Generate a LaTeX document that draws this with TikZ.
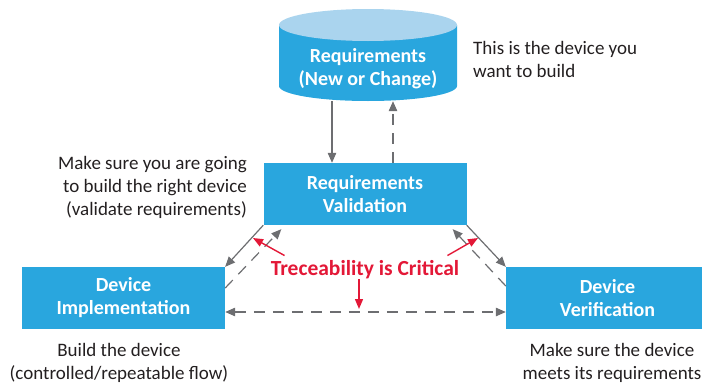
\documentclass[tikz,border=0pt]{standalone}
\usepackage{fontspec}
\setmainfont{Carlito}
\usetikzlibrary{arrows.meta}
\definecolor{devblue}{RGB}{41,166,222}
\definecolor{toplight}{RGB}{170,212,238}
\definecolor{arrgray}{RGB}{109,110,113}
\definecolor{tracered}{RGB}{227,24,55}
\definecolor{txtgray}{RGB}{35,31,32}

\begin{document}
\begin{tikzpicture}[x=1pt,y=-1pt,
  box/.style={fill=devblue,text=white,font=\fontsize{20}{23}\selectfont\bfseries,align=center,
    minimum width=203pt,minimum height=62pt,inner sep=0pt},
  note/.style={text=txtgray,font=\fontsize{19}{23}\selectfont,inner sep=0pt},
  conn/.style={draw=arrgray,line width=1.2pt,-{Triangle[length=10pt,width=8.5pt]}},
  dconn/.style={conn,dash pattern=on 11pt off 8pt},
  redarr/.style={draw=tracered,line width=1.4pt,-{Triangle[length=10pt,width=8pt]}}]
\useasboundingbox (0,0) rectangle (702,383);

% cylindre des exigences
\fill[devblue] (279,25) -- (279,86) arc[start angle=180,end angle=360,x radius=89pt,y radius=15pt] -- (457,25) -- cycle;
\fill[toplight] (368,25) ellipse[x radius=89pt,y radius=16pt];
\node[minimum width=178pt,minimum height=92pt,inner sep=0pt] (req) at (368,55) {};
\node[box,fill=none,minimum width=0pt,minimum height=0pt] (reqtext) at ([yshift=-14pt]req.center) {Requirements\\(New or Change)};

% boites
\node[box] (val) at (365,194) {Requirements\\Validation};
\node[box] (impl) at (123.5,298) {Device\\Implementation};
\node[box] (verif) at (607.5,298) {Device\\Verification};

% commentaires
\node[note,anchor=west,align=left] (buildnote) at (473,59) {This is the device you\\want to build};
\node[note,anchor=east,align=right] (valnote) at (247,187) {Make sure you are going\\to build the right device\\(validate requirements)};
\node[note,align=center] (implnote) at (119,363) {Build the device\\(controlled/repeatable flow)};
\node[note,align=center] (verifnote) at (612,363) {Make sure the device\\meets its requirements};

% fleches grises
\draw[conn] ([xshift=-36pt]req.south) -- ([xshift=-33pt]val.north);
\draw[dconn] ([xshift=28pt]val.north) -- ([xshift=25pt]req.south);
\draw[conn] (val.south west) -- (impl.north east);
\draw[dconn] ([yshift=10pt]impl.east) -- ([xshift=18pt,yshift=-4pt]val.south west);
\draw[conn] (val.south east) -- (verif.north west);
\draw[dconn] ([yshift=12pt]verif.west) -- ([xshift=-14pt,yshift=-4pt]val.south east);
\draw[dconn,{Triangle[length=10pt,width=8.5pt]}-{Triangle[length=10pt,width=8.5pt]}]
  ([yshift=-14pt]impl.east) -- ([yshift=-14pt]verif.west);

% tracabilite
\node[text=tracered,font=\fontsize{21.5}{24}\selectfont\bfseries,inner sep=0pt] (trace) at (365,270) {Treceability is Critical};
\coordinate (leftmark) at (253,238);
\coordinate (rightmark) at (478,238);
\coordinate (bottommark) at (359,309);
\draw[redarr] ([xshift=14pt,yshift=5pt]trace.north west) -- (leftmark);
\draw[redarr] ([xshift=-12pt,yshift=5pt]trace.north east) -- (rightmark);
\draw[redarr] ([xshift=-6pt]trace.south) -- (bottommark);
\end{tikzpicture}
\end{document}
